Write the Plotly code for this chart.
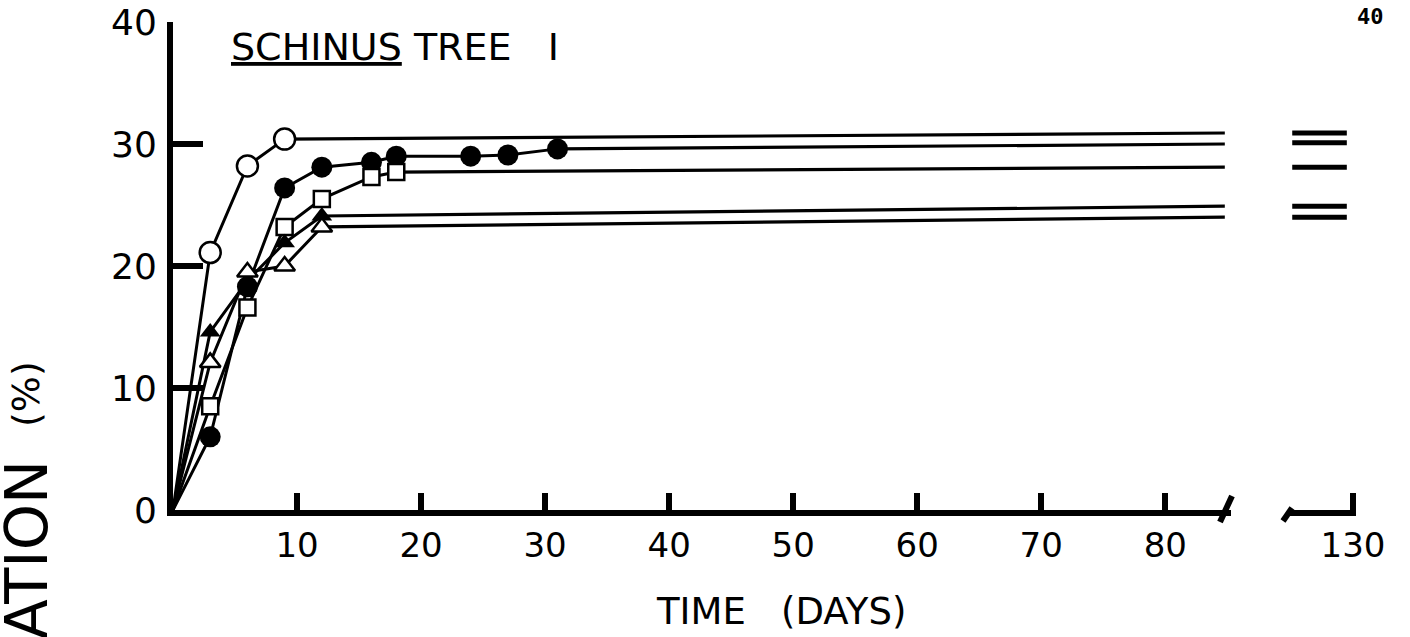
import plotly.graph_objects as go

# pixel helpers for a 1410 x 637 page
W, H = 1410, 637


def px(x):
    return x / W


def py(y):
    return 1 - y / H


# =============================================================================
# DATA  (germination %)
# =============================================================================
OPEN_CIRCLE_DAYS = [0, 3, 6, 9]
OPEN_CIRCLE_VALS = [0, 21.1, 28.2, 30.4]

FILLED_CIRCLE_DAYS = [0, 3, 6, 9, 12, 16, 18, 24, 27, 31]
FILLED_CIRCLE_VALS = [0, 6.0, 18.3, 26.4, 28.1, 28.5, 29.0, 29.0, 29.1, 29.6]

OPEN_SQUARE_DAYS = [0, 3, 6, 9, 12, 16, 18]
OPEN_SQUARE_VALS = [0, 8.5, 16.6, 23.2, 25.5, 27.3, 27.7]

FILLED_TRI_DAYS = [0, 3, 6, 9, 12]
FILLED_TRI_VALS = [0, 14.6, 18.8, 21.9, 24.1]

OPEN_TRI_DAYS = [0, 3, 6, 9, 12]
OPEN_TRI_VALS = [0, 12.1, 19.5, 20.0, 23.2]

# plateau values carried on to the end of the main axis (day ~85)
PLATEAU_END_DAY = 84.8
PLATEAU_END_VALS = [30.9, 30.0, 28.1, 24.9, 24.0]

# final values shown past the axis break (around day 130)
FINAL_DAYS = [125.1, 129.5]
FINAL_VALS = [30.9, 30.1, 28.1, 24.9, 24.0]

X_TICKS = [10, 20, 30, 40, 50, 60, 70, 80]
X2_TICKS = [130]
Y_TICKS = [0, 10, 20, 30, 40]

SERIES = [
    (OPEN_CIRCLE_DAYS, OPEN_CIRCLE_VALS, dict(symbol="circle", size=21, color="white",
                                              line=dict(color="black", width=2.5))),
    (FILLED_CIRCLE_DAYS, FILLED_CIRCLE_VALS, dict(symbol="circle", size=21, color="black")),
    (OPEN_SQUARE_DAYS, OPEN_SQUARE_VALS, dict(symbol="square", size=16, color="white",
                                              line=dict(color="black", width=2.5))),
    (FILLED_TRI_DAYS, FILLED_TRI_VALS, dict(symbol="triangle-up", size=18, color="black")),
    (OPEN_TRI_DAYS, OPEN_TRI_VALS, dict(symbol="triangle-up", size=18, color="white",
                                        line=dict(color="black", width=2.5))),
]

FONT = "DejaVu Sans"

fig = go.Figure()

# plateau lines first so the markers sit on top
for (days, vals, _), end_val, fin_val in zip(SERIES, PLATEAU_END_VALS, FINAL_VALS):
    fig.add_trace(go.Scatter(
        x=[days[-1], PLATEAU_END_DAY], y=[vals[-1], end_val],
        mode="lines", line=dict(color="black", width=3.2),
        hoverinfo="skip", showlegend=False,
    ))
    fig.add_trace(go.Scatter(
        x=FINAL_DAYS, y=[fin_val, fin_val], xaxis="x2", yaxis="y",
        mode="lines", line=dict(color="black", width=5),
        hoverinfo="skip", showlegend=False,
    ))

# connecting lines start at the origin; no symbol is drawn there
for days, vals, _ in SERIES:
    fig.add_trace(go.Scatter(
        x=days, y=vals, mode="lines",
        line=dict(color="black", width=3),
        hoverinfo="skip", showlegend=False,
    ))

for days, vals, marker in SERIES:
    fig.add_trace(go.Scatter(
        x=days[1:], y=vals[1:], mode="markers",
        marker=marker, cliponaxis=False, showlegend=False,
    ))

# axis-break slashes
break_line = dict(color="black", width=6)
fig.add_shape(type="line", xref="paper", yref="paper",
              x0=px(1220), y0=py(522), x1=px(1232), y1=py(496), line=break_line)
fig.add_shape(type="line", xref="paper", yref="paper",
              x0=px(1283), y0=py(521), x1=px(1292), y1=py(508), line=break_line)

fig.add_annotation(text="<u>SCHINUS</u> TREE   I", xref="paper", yref="paper",
                   x=px(229), y=py(47), xanchor="left", yanchor="middle",
                   showarrow=False, font=dict(family=FONT, size=38, color="black"))
fig.add_annotation(text="TIME   (DAYS)", xref="paper", yref="paper",
                   x=px(781), y=py(611), xanchor="center", yanchor="middle",
                   showarrow=False, font=dict(family=FONT, size=37, color="black"))
# y title, cut off by the bottom edge as in the original scan
fig.add_annotation(text="(%)", xref="paper", yref="paper",
                   x=px(26), y=py(359), xanchor="center", yanchor="top",
                   textangle=-90, showarrow=False,
                   font=dict(family=FONT, size=38, color="black"))
fig.add_annotation(text="GERMINATION", xref="paper", yref="paper",
                   x=px(26), y=py(458), xanchor="center", yanchor="top",
                   textangle=-90, showarrow=False,
                   font=dict(family=FONT, size=59, color="black"))
fig.add_annotation(text="<b>40</b>", xref="paper", yref="paper",
                   x=px(1370), y=py(17), xanchor="center", yanchor="middle",
                   showarrow=False, font=dict(family="DejaVu Sans Mono", size=22, color="black"))

AXIS_STYLE = dict(
    ticks="inside", tickwidth=6, tickcolor="black",
    showline=True, linewidth=6, linecolor="black",
    showgrid=False, zeroline=False, automargin=False,
)
X_FONT = dict(family=FONT, size=34, color="black")
Y_FONT = dict(family=FONT, size=36, color="black")
fig.update_layout(
    width=W, height=H,
    margin=dict(l=0, r=0, t=0, b=0, autoexpand=False),
    plot_bgcolor="white", paper_bgcolor="white",
    showlegend=False,
    xaxis=dict(domain=[px(173), px(1231)], range=[0, 85.3], tickvals=X_TICKS,
               ticklen=17, ticklabelstandoff=0, tickfont=X_FONT, anchor="y", **AXIS_STYLE),
    xaxis2=dict(domain=[px(1290), px(1356)], range=[124.92, 130.24], tickvals=X2_TICKS,
                ticklen=17, ticklabelstandoff=0, tickfont=X_FONT, anchor="y", **AXIS_STYLE),
    yaxis=dict(domain=[py(510), py(22)], range=[0, 40], tickvals=Y_TICKS,
               ticklen=30, ticklabelstandoff=3, tickfont=Y_FONT, **AXIS_STYLE),
)

fig.write_html("out.html", config={"displayModeBar": False},
               post_script="document.body.style.margin='0';")
